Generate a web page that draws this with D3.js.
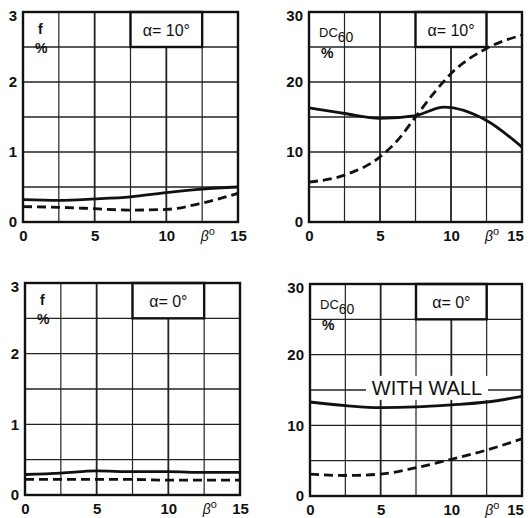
<!DOCTYPE html>
<html>
<head>
<meta charset="utf-8">
<script src="https://cdn.jsdelivr.net/npm/d3@7"></script>
<style>
  body { margin: 0; background: #fff; }
  text { font-family: "Liberation Sans", Arial, sans-serif; font-weight: bold; fill: #111; }
</style>
</head>
<body>
<svg width="528" height="518"></svg>
<script>
// beta values (x) shared by all curves
var beta = [0, 2.5, 5, 7.5, 10, 12.5, 15];
var betaTicks = [0, 5, 10, 15];
var betaGrid = [2.5, 5, 7.5, 10, 12.5];

// f % panels
var fTicks = [0, 1, 2, 3];
var fGrid = [0.5, 1, 1.5, 2, 2.5];
var fA10Solid  = [0.32, 0.31, 0.33, 0.36, 0.42, 0.47, 0.50];
var fA10Dashed = [0.22, 0.21, 0.19, 0.17, 0.18, 0.27, 0.41];
var fA0Solid   = [0.29, 0.31, 0.34, 0.33, 0.33, 0.32, 0.32];
var fA0Dashed  = [0.22, 0.22, 0.22, 0.22, 0.21, 0.21, 0.21];

// DC60 % panels
var dcTicks = [0, 10, 20, 30];
var dcGrid = [5, 10, 15, 20, 25];
var betaDc = [0, 2.5, 5, 7.5, 9.5, 12.5, 15];
var dcA10Solid = [16.3, 15.5, 14.8, 15.2, 16.4, 14.5, 10.7];
var betaDcDash = [0, 2.5, 5, 6.25, 7.5, 8.75, 10, 12.5, 15];
var dcA10Dashed = [5.7, 6.7, 9.3, 11.7, 15.0, 18.3, 21.2, 24.8, 26.7];
var dcA0Solid  = [13.3, 12.8, 12.5, 12.6, 12.9, 13.3, 14.1];
var dcA0Dashed = [3.1, 2.9, 3.1, 4.0, 5.2, 6.5, 8.1];

var panels = [
  {x0: 23, x1: 238, y0: 12, y1: 222, yMax: 3, yTicks: fTicks, yGrid: fGrid, kind: 'f', alpha: '10°',
   solid: {x: beta, y: fA10Solid}, dashed: {x: beta, y: fA10Dashed}},
  {x0: 309, x1: 522, y0: 12, y1: 222, yMax: 30, yTicks: dcTicks, yGrid: dcGrid, kind: 'dc', alpha: '10°',
   solid: {x: betaDc, y: dcA10Solid}, dashed: {x: betaDcDash, y: dcA10Dashed}, edge: true},
  {x0: 25, x1: 240, y0: 283, y1: 495, yMax: 3, yTicks: fTicks, yGrid: fGrid, kind: 'f', alpha: '0°',
   solid: {x: beta, y: fA0Solid}, dashed: {x: beta, y: fA0Dashed}},
  {x0: 310, x1: 522, y0: 284, y1: 496, yMax: 30, yTicks: dcTicks, yGrid: dcGrid, kind: 'dc', alpha: '0°',
   solid: {x: beta, y: dcA0Solid}, dashed: {x: beta, y: dcA0Dashed}, wall: true, edge: true}
];

var svg = d3.select('svg');

panels.forEach(function(p) {
  var w = p.x1 - p.x0, h = p.y1 - p.y0;
  var g = svg.append('g').attr('transform', 'translate(' + [p.x0, p.y0] + ')');
  var xScale = d3.scaleLinear().domain([0, 15]).range([0, w]);
  var yScale = d3.scaleLinear().domain([0, p.yMax]).range([h, 0]);

  // grid
  g.append('g').selectAll('line').data(betaGrid).enter().append('line')
    .attr('x1', xScale).attr('x2', xScale).attr('y1', 0).attr('y2', h)
    .attr('stroke', '#222').attr('stroke-width', function(d) { return d % 5 === 0 ? 1.8 : 1.2; });
  g.append('g').selectAll('line').data(p.yGrid).enter().append('line')
    .attr('y1', yScale).attr('y2', yScale).attr('x1', 0).attr('x2', w)
    .attr('stroke', '#222').attr('stroke-width', 1.3);

  // label box alpha
  var bx = xScale(7.5), bw = xScale(12.5) - xScale(7.5), bh = yScale(p.yMax * 5 / 6);
  g.append('rect').attr('x', bx).attr('y', 0).attr('width', bw).attr('height', bh)
    .attr('fill', '#fff').attr('stroke', '#111').attr('stroke-width', 2.4);
  g.append('text').attr('x', bx + bw / 2).attr('y', bh / 2 + 6)
    .attr('text-anchor', 'middle').style('font-size', '16px').style('font-weight', 'normal')
    .text('α= ' + p.alpha);

  // quantity label
  if (p.kind === 'f') {
    g.append('text').attr('x', 15).attr('y', 22).style('font-size', '14px').text('f');
    g.append('text').attr('x', 12).attr('y', 41).style('font-size', '14px').text('%');
  } else {
    var t = g.append('text').attr('x', 10).attr('y', 25).style('font-size', '13px').style('font-weight', 'normal');
    t.append('tspan').text('DC');
    t.append('tspan').attr('dy', 5).style('font-size', '14px').text('60');
    g.append('text').attr('x', 12).attr('y', 46).style('font-size', '14px').text('%');
  }

  if (p.wall) {
    var wy = yScale(15.3);
    g.append('rect').attr('x', 56).attr('y', wy - 12).attr('width', 122).attr('height', 24).attr('fill', '#fff');
    g.append('text').attr('x', 117).attr('y', wy + 7).attr('text-anchor', 'middle')
      .style('font-size', '20px').style('font-weight', 'normal')
      .text('WITH  WALL');
  }

  // curves
  var line = d3.line().curve(d3.curveMonotoneX)
    .x(function(d) { return xScale(d[0]); })
    .y(function(d) { return yScale(d[1]); });
  g.append('path').datum(d3.zip(p.solid.x, p.solid.y))
    .attr('d', line).attr('fill', 'none').attr('stroke', '#111').attr('stroke-width', 2.8);
  g.append('path').datum(d3.zip(p.dashed.x, p.dashed.y))
    .attr('d', line).attr('fill', 'none').attr('stroke', '#111').attr('stroke-width', 2.8)
    .attr('stroke-dasharray', '9,5');

  // frame
  g.append('rect').attr('width', w).attr('height', h)
    .attr('fill', 'none').attr('stroke', '#111').attr('stroke-width', 2.4);

  // axes
  var yAxis = g.append('g').call(d3.axisLeft(yScale).tickValues(p.yTicks)
    .tickFormat(d3.format('d')).tickSize(0).tickPadding(6));
  yAxis.select('.domain').remove();
  yAxis.selectAll('text').style('font-size', '15px').attr('dy', function(d) {
    return d === p.yMax ? '0.55em' : '0.32em';
  });

  var xAxis = g.append('g').attr('transform', 'translate(0,' + h + ')')
    .call(d3.axisBottom(xScale).tickValues(betaTicks).tickSize(0).tickPadding(8));
  xAxis.select('.domain').remove();
  xAxis.selectAll('text').style('font-size', '15px')
    .attr('dx', function(d) { return p.edge && d === 15 ? -7 : 0; });

  var bl = g.append('text').attr('x', xScale(12.9)).attr('y', h + 19)
    .attr('text-anchor', 'middle').style('font-size', '14px').style('font-weight', 'normal');
  bl.append('tspan').style('font-style', 'italic').text('β');
  bl.append('tspan').attr('dy', -6).style('font-size', '11px').text('o');
});
</script>
</body>
</html>
